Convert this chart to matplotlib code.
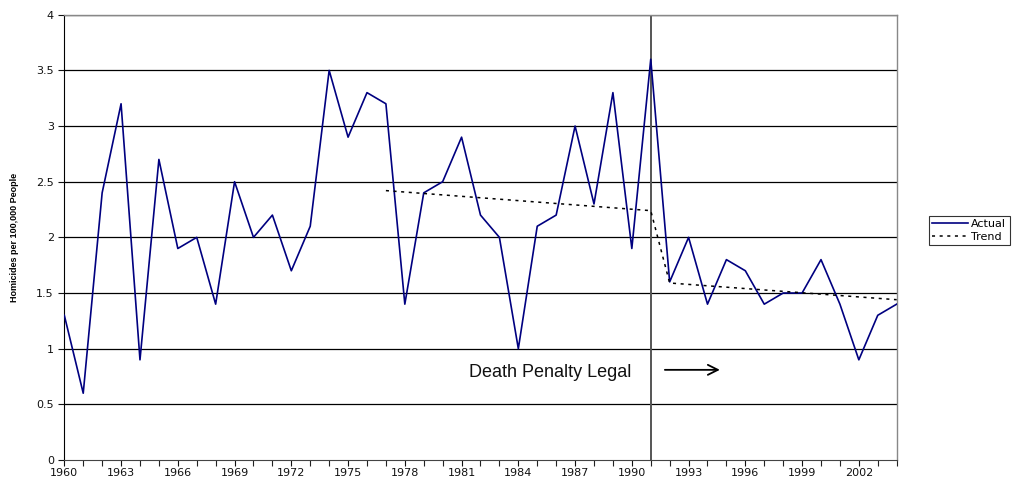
import matplotlib
matplotlib.use("Agg")
import matplotlib.pyplot as plt
from matplotlib.ticker import MultipleLocator, FixedLocator

years = list(range(1960, 2005))
actual = [1.3, 0.6, 2.4, 3.2, 0.9, 2.7, 1.9, 2.0, 1.4, 2.5,
          2.0, 2.2, 1.7, 2.1, 3.5, 2.9, 3.3, 3.2, 1.4, 2.4,
          2.5, 2.9, 2.2, 2.0, 1.0, 2.1, 2.2, 3.0, 2.3, 3.3,
          1.9, 3.6, 1.6, 2.0, 1.4, 1.8, 1.7, 1.4, 1.5, 1.5,
          1.8, 1.4, 0.9, 1.3, 1.4]
trend_years = [1977, 1991, 1992, 2004]
trend_values = [2.42, 2.24, 1.59, 1.44]
label_years = list(range(1960, 2003, 3))
y_ticks = [0, 0.5, 1, 1.5, 2, 2.5, 3, 3.5, 4]
y_labels = ["0", "0.5", "1", "1.5", "2", "2.5", "3", "3.5", "4"]
event_year = 1991

plt.rcParams['font.family'] = ['DejaVu Sans']

fig = plt.figure(figsize=(10.29, 4.87), dpi=100)
ax = fig.add_axes([0.0625, 0.0554, 0.8089, 0.9144])

for yv in y_ticks[1:]:
    ax.axhline(yv, color="#000000", lw=0.9, zorder=1)

ax.axvline(event_year, color="#555555", lw=1.4, zorder=2)

ax.plot(years, actual, color="#000080", lw=1.2, label="Actual", zorder=3)
ax.plot(trend_years, trend_values, color="#000000", lw=1.1, ls=(0, (2, 3)),
        label="Trend", zorder=4)

ax.set_xlim(1960, 2004)
ax.set_ylim(0, 4)
ax.xaxis.set_major_locator(FixedLocator(label_years))
ax.xaxis.set_minor_locator(MultipleLocator(1))
ax.set_xticklabels([str(y) for y in label_years])
ax.set_yticks(y_ticks)
ax.set_yticklabels(y_labels)
ax.tick_params(axis="both", labelsize=8, colors="#111111", length=4, width=0.8)
ax.tick_params(axis="x", which="minor", length=4, width=0.8, color="#222222")
ax.tick_params(axis="x", pad=2)

for s in ["top", "right"]:
    ax.spines[s].set_color("#888888")
    ax.spines[s].set_linewidth(1.0)
ax.spines["left"].set_color("#000000")
ax.spines["bottom"].set_color("#444444")

ax.set_ylabel("Homicides per 100,000 People", fontsize=6.5, fontweight="bold",
              family="Liberation Sans", labelpad=12)

ax.text(1981.4, 0.785, "Death Penalty Legal", fontsize=13,
        family="Liberation Sans", va="center", ha="left", color="#111111")
ax.annotate("", xy=(1994.8, 0.81), xytext=(1991.6, 0.81),
            arrowprops=dict(arrowstyle="->", color="black", lw=1.3,
                            mutation_scale=18))

leg = fig.legend(loc="upper left", bbox_to_anchor=(929/1029, 1 - 216/487),
                 fontsize=8, frameon=True, fancybox=False, edgecolor="black",
                 handlelength=3.2, borderpad=0.3, labelspacing=0.2,
                 handletextpad=0.3, borderaxespad=0)
leg.get_frame().set_linewidth(0.8)

fig.savefig("out.png", dpi=100)
